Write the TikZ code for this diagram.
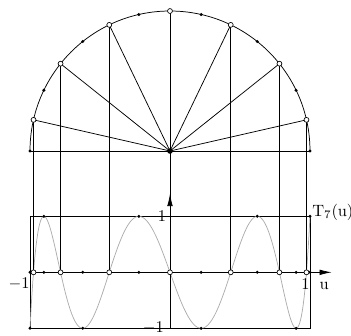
\documentclass[tikz,border=0pt]{standalone}
\usetikzlibrary{arrows.meta}

\begin{document}
\begin{tikzpicture}[x=3cm, y=3cm, line width=0.45pt,
  zero/.style={circle, draw, fill=white, line width=0.4pt, inner sep=0pt, minimum size=3pt},
  ext/.style={circle, fill, inner sep=0pt, minimum size=2pt},
  lbl/.style={inner sep=0pt},
  axis/.style={-{Latex[length=2.6mm, width=1.2mm]}}]
\useasboundingbox (-3.643cm,-3.964cm) rectangle (3.879cm,3.236cm);
\coordinate (O) at (0,0);
\draw (1,0) arc[start angle=0, end angle=180, radius=1];
\draw (-1,0) -- (1,0);
\begin{scope}[yshift=-2.6cm, y=1.2cm]
  \draw (-1,-1) rectangle (1,1);
  \draw[gray!65] plot[domain=0:180, samples=241, smooth] ({cos(\x)}, {cos(7*\x)});
  \draw[axis] (-1,0) -- (1.155,0);
  \draw[axis] (0,-1) -- (0,1.4);
  \foreach \k in {1,...,7}
    \coordinate (a\k) at ({cos((2*\k-1)*180/14)},0);
  \foreach \k in {0,...,7} {
    \node[ext] (x\k) at ({cos(\k*180/7)},0) {};
    \node[ext] (t\k) at ({cos(\k*180/7)},{cos(\k*180)}) {};
  }
  \node[lbl, anchor=east] (one) at ([xshift=-2.2pt]0,1) {$1$};
  \node[lbl, anchor=east] (mone) at ([xshift=-3.5pt]0,-1) {$-1$};
  \node[lbl, anchor=north east] (left) at ([yshift=-2.9pt]-1,0) {$-1$};
  \node[lbl, anchor=north east] (right) at ([yshift=-3.6pt]1,0) {$1$};
  \node[lbl, anchor=base west] (u) at ([xshift=5.6pt, yshift=-10.3pt]1,0) {$\mathrm{u}$};
  \node[lbl, anchor=base west] (T) at ([xshift=1.2pt]1,1) {$\mathrm{T}_7(\mathrm{u})$};
\end{scope}
\foreach \k in {1,...,7} {
  \coordinate (c\k) at ({(2*\k-1)*180/14}:1);
  \draw (O) -- (c\k);
  \draw (c\k) -- (a\k);
}
\foreach \k in {1,...,7} {
  \node[zero] at (c\k) {};
  \node[zero] at (a\k) {};
}
\foreach \k in {1,...,6}
  \node[ext] at ({\k*180/7}:1) {};
\node[ext] at (-1,0) {};
\node[ext] at (1,0) {};
\node[circle, fill, inner sep=0pt, minimum size=3.4pt] at (O) {};
\end{tikzpicture}
\end{document}
